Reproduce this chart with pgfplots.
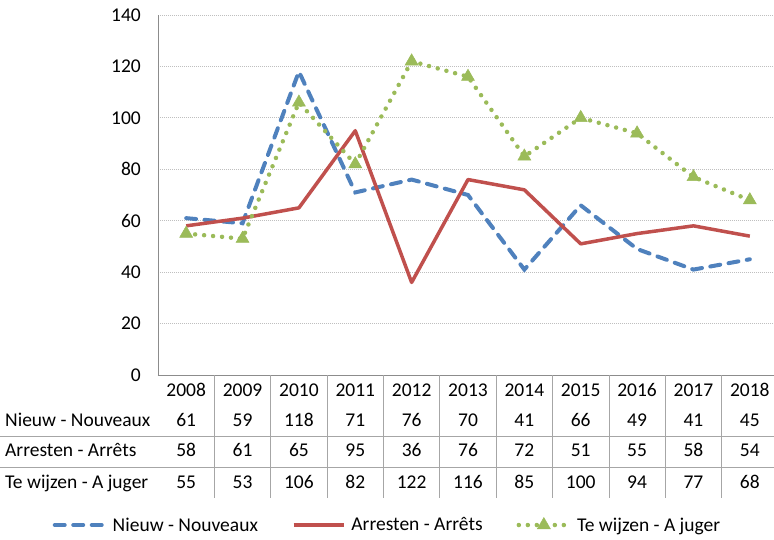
\documentclass[border=0pt]{standalone}
\usepackage{fontspec}
\setmainfont{Carlito}
\usepackage{pgfplots}
\pgfplotsset{compat=1.18}
\definecolor{cblue}{HTML}{4F81BD}
\definecolor{cred}{HTML}{C0504D}
\definecolor{cgreen}{HTML}{9BBB59}
\definecolor{gridc}{HTML}{BFBFBF}
\definecolor{axc}{HTML}{8C8C8C}
\definecolor{tabc}{HTML}{A6A6A6}
\begin{document}
\begin{tikzpicture}[font=\fontsize{19.5bp}{23bp}\selectfont]
\useasboundingbox (-158bp,-165bp) rectangle (616bp,375bp);
\begin{axis}[
  at={(0,0)}, anchor=south west,
  scale only axis, width=620bp, height=360bp,
  xmin=0.5, xmax=11.5, ymin=0, ymax=140,
  xtick=\empty, ytick={0,20,...,140},
  axis x line*=bottom, axis y line*=left,
  axis line style={draw=axc, line width=0.8bp, -},
  major tick length=0pt,
  ymajorgrids,
  major grid style={draw=gridc, line width=0.8bp, dash pattern=on 1bp off 1bp},
  /pgf/number format/assume math mode=true,
  yticklabel style={font=\fontsize{19.5bp}{23bp}\selectfont, anchor=east, inner sep=0pt, xshift=-17bp},
  legend columns=3,
  legend style={draw=none, fill=none, at={(axis description cs:0.3685,-0.4167)}, anchor=center,
    nodes={inner sep=0pt, font=\fontsize{19.5bp}{23bp}\selectfont},
    /tikz/every odd column/.append style={column sep=6bp},
    /tikz/every even column/.append style={column sep=34bp}},
  legend image code/.code={\draw[mark repeat=2, mark phase=2, #1] plot coordinates {(0bp,0bp) (25bp,0bp) (50bp,0bp)};},
]
\addplot[cblue, line width=4bp, line cap=round, dash pattern=on 10bp off 8.5bp] coordinates {
(1,61) (2,59) (3,118) (4,71) (5,76) (6,70) (7,41) (8,66) (9,49) (10,41) (11,45)};
\addlegendentry{Nieuw - Nouveaux}
\addplot[cred, line width=3.5bp, line join=round] coordinates {
(1,58) (2,61) (3,65) (4,95) (5,36) (6,76) (7,72) (8,51) (9,55) (10,58) (11,54)};
\addlegendentry{Arresten - Arrêts}
\addplot[cgreen, line width=4.5bp, line cap=round, dash pattern=on 0bp off 9bp,
  mark=triangle*, mark size=7.5bp, mark options={solid, fill=cgreen, draw=cgreen, line width=0.5bp}] coordinates {
(1,55) (2,53) (3,106) (4,82) (5,122) (6,116) (7,85) (8,100) (9,94) (10,77) (11,68)};
\addlegendentry{Te wijzen - A juger}
\end{axis}
% data table below the plot
\def\cw{56.3636}
\foreach \k in {1,...,11} {\pgfmathsetmacro\xx{\k*\cw}\draw[tabc, line width=0.8bp] (\xx bp,0bp) -- (\xx bp,-123bp);}
\draw[tabc, line width=0.8bp] (-158bp,-61.5bp) -- (620bp,-61.5bp);
\draw[tabc, line width=0.8bp] (-158bp,-92bp) -- (620bp,-92bp);
\foreach \v [count=\i] in {2008,2009,2010,2011,2012,2013,2014,2015,2016,2017,2018}
  {\pgfmathsetmacro\xx{(\i-0.5)*\cw}\node[anchor=base, inner sep=0pt] at (\xx bp,-21.7bp) {\v};}
\foreach \v [count=\i] in {61,59,118,71,76,70,41,66,49,41,45}
  {\pgfmathsetmacro\xx{(\i-0.5)*\cw}\node[anchor=base, inner sep=0pt] at (\xx bp,-51.7bp) {\v};}
\foreach \v [count=\i] in {58,61,65,95,36,76,72,51,55,58,54}
  {\pgfmathsetmacro\xx{(\i-0.5)*\cw}\node[anchor=base, inner sep=0pt] at (\xx bp,-81.7bp) {\v};}
\foreach \v [count=\i] in {55,53,106,82,122,116,85,100,94,77,68}
  {\pgfmathsetmacro\xx{(\i-0.5)*\cw}\node[anchor=base, inner sep=0pt] at (\xx bp,-113.3bp) {\v};}
\node[anchor=base west, inner sep=0pt] at (-153bp,-51.7bp) {Nieuw - Nouveaux};
\node[anchor=base west, inner sep=0pt] at (-153bp,-81.7bp) {Arresten - Arrêts};
\node[anchor=base west, inner sep=0pt] at (-153bp,-113.3bp) {Te wijzen - A juger};
\end{tikzpicture}
\end{document}
